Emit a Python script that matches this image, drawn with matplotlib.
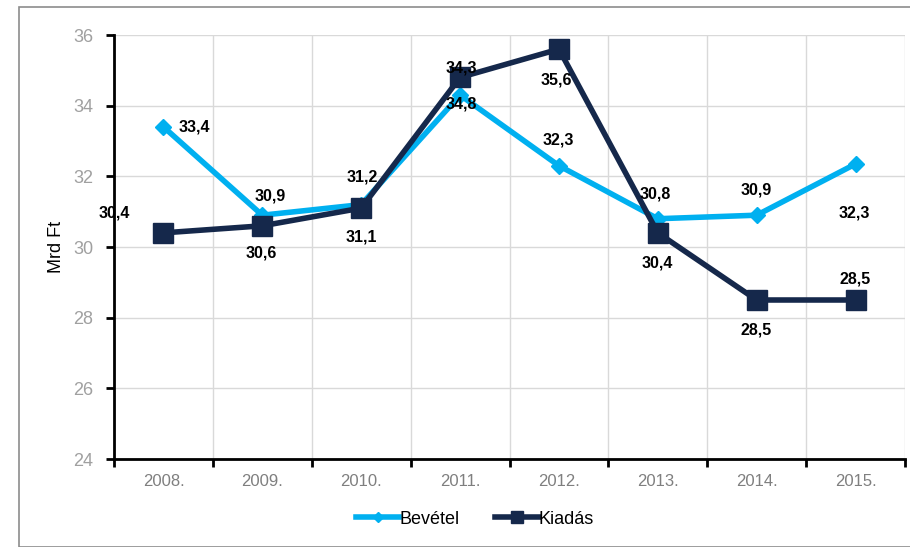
import matplotlib
matplotlib.use("Agg")
import matplotlib.pyplot as plt
from matplotlib.patches import Rectangle

years = ["2008.", "2009.", "2010.", "2011.", "2012.", "2013.", "2014.", "2015."]
bevetel = [33.4, 30.9, 31.2, 34.3, 32.3, 30.8, 30.9, 32.35]
kiadas = [30.4, 30.6, 31.1, 34.8, 35.6, 30.4, 28.5, 28.5]
bevetel_labels = ["33,4", "30,9", "31,2", "34,3", "32,3", "30,8", "30,9", "32,3"]
kiadas_labels = ["30,4", "30,6", "31,1", "34,8", "35,6", "30,4", "28,5", "28,5"]
yticks = [24, 26, 28, 30, 32, 34, 36]

plt.rcParams['font.family'] = ['Liberation Sans', 'DejaVu Sans']
narrow = ['Liberation Sans Narrow', 'Liberation Sans', 'DejaVu Sans']

W, H = 910, 547
fig = plt.figure(figsize=(W / 100, H / 100), dpi=100)
ax = fig.add_axes([114 / W, 1 - 459 / H, (905 - 114) / W, (459 - 35) / H])

# outer border
fig.patches.append(Rectangle((19 / W, 0), 1.2, 1 - 7 / H, transform=fig.transFigure,
                             fill=False, edgecolor='#8c8c8c', linewidth=1.2))

x = list(range(len(years)))
c_bev = '#00B0F0'
c_kia = '#15284B'
ax.plot(x, bevetel, color=c_bev, linewidth=4, marker='D', markersize=8,
        markerfacecolor=c_bev, markeredgecolor=c_bev, label='Bevétel', zorder=3)
ax.plot(x, kiadas, color=c_kia, linewidth=4, marker='s', markersize=14,
        markerfacecolor=c_kia, markeredgecolor=c_kia, label='Kiadás', zorder=4)

ax.set_xlim(-0.5, len(years) - 0.5)
ax.set_ylim(24, 36)
ax.set_yticks(yticks)
ax.set_yticklabels([str(v) for v in yticks], family=narrow, fontsize=13, color='#a0a0a0')
ax.set_xticks(x)
ax.set_xticklabels(years, family=narrow, fontsize=12, color='#7f7f7f')
ax.set_xticks([i - 0.5 for i in range(len(years) + 1)], minor=True)

ax.tick_params(axis='x', which='major', length=0, pad=11)
ax.tick_params(axis='x', which='minor', length=6, width=2, direction='out', color='black')
ax.tick_params(axis='y', which='major', length=6, width=2, direction='out', pad=9)

ax.grid(axis='y', which='major', color='#d9d9d9', linewidth=1)
ax.grid(axis='x', which='minor', color='#d9d9d9', linewidth=1)
ax.set_axisbelow(True)

for s in ['top', 'right']:
    ax.spines[s].set_visible(False)
ax.spines['left'].set_linewidth(2)
ax.spines['bottom'].set_linewidth(2)

ax.set_ylabel('Mrd Ft', family=narrow, fontsize=13, labelpad=6)

bev_off = [(31, 0), (8, 19), (1, 28), (1, 27), (-1, 26), (-3, 25), (0, 25), (-1, -49)]
kia_off = [(-49, 20), (-1, -27), (0, -29), (1, -27), (-3, -31), (-1, -30), (-1, -30), (0, 21)]
for i in x:
    ax.annotate(bevetel_labels[i], (x[i], bevetel[i]), xytext=bev_off[i],
                textcoords='offset pixels', ha='center', va='center',
                fontsize=11.5, fontweight='bold', color='black', zorder=6)
    ax.annotate(kiadas_labels[i], (x[i], kiadas[i]), xytext=kia_off[i],
                textcoords='offset pixels', ha='center', va='center',
                fontsize=11.5, fontweight='bold', color='black', zorder=6)

leg = fig.legend(loc='center', bbox_to_anchor=(475 / W, 1 - 519 / H), ncol=2,
                 frameon=False, handlelength=2.4, columnspacing=2.0,
                 handletextpad=0.0, markerscale=0.6,
                 prop={'family': narrow, 'size': 13})

fig.savefig('out.png', dpi=100)
